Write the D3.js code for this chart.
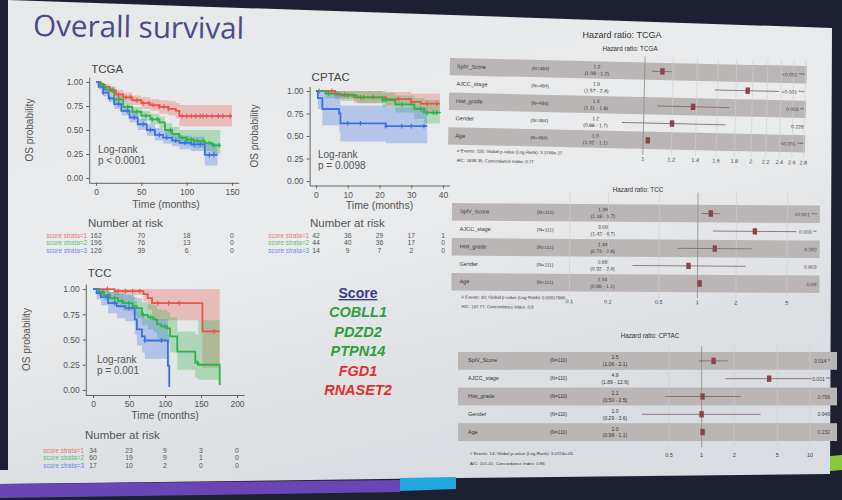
<!DOCTYPE html>
<html>
<head>
<meta charset="utf-8">
<script src="https://cdn.jsdelivr.net/npm/d3@7"></script>
<style>
body { margin: 0; background: #1c2030; }
svg text { font-family: "Liberation Sans", Arial, sans-serif; }
.narrow { font-family: "Liberation Sans Narrow", "Arial Narrow", "Liberation Sans", sans-serif; }
</style>
</head>
<body>
<svg id="slide" width="842" height="500"></svg>
<script>
const strataNames = ['score strata=1', 'score strata=2', 'score strata=3']
const strataColors = ['#e8554c', '#2fb24a', '#3d70e3']

// KM curves: [time, survival, lower CI, upper CI]
const tcgaStrata1 = [[0,1,1,1],[3,.98,.96,1],[8,.95,.92,.98],[15,.91,.87,.95],[22,.87,.83,.92],[30,.84,.79,.89],[40,.81,.76,.86],[50,.78,.72,.84],[60,.76,.70,.82],[70,.74,.67,.81],[80,.72,.65,.80],[88,.70,.62,.78],[92,.645,.54,.76],[150,.645,.54,.76]]
const tcgaStrata2 = [[0,1,1,1],[5,.97,.95,.99],[10,.92,.89,.95],[20,.82,.78,.86],[30,.74,.69,.79],[40,.69,.64,.74],[50,.65,.60,.70],[60,.61,.56,.67],[70,.58,.52,.64],[76,.50,.44,.57],[84,.46,.40,.53],[92,.42,.35,.50],[100,.40,.33,.50],[108,.385,.31,.50],[120,.365,.28,.50],[128,.34,.25,.50],[137,.34,.25,.50]]
const tcgaStrata3 = [[0,1,1,1],[3,.95,.92,.98],[8,.89,.85,.93],[14,.83,.79,.87],[20,.77,.72,.82],[28,.70,.65,.75],[37,.63,.58,.69],[46,.56,.50,.62],[56,.50,.44,.56],[65,.45,.39,.52],[74,.42,.36,.49],[84,.39,.33,.46],[92,.365,.30,.44],[105,.35,.28,.43],[120,.24,.13,.36],[134,.24,.13,.36]]
const tcgaCensor = [
  [10,18,25,33,38,45,52,58,63,70,75,80,95,100,105,110,115,118,122,128,135,140,148],
  [15,25,35,45,55,62,68,82,95,100,105,112,118,125,130,136],
  [8,15,25,35,42,52,60,70,78,88,98,108,115,125,130]
]
const tcgaTicks = [0, 50, 100, 150]
const tcgaRisk = [[162,70,18,0],[196,76,13,0],[126,39,6,0]]

const cptacStrata1 = [[0,1,1,1],[6,.96,.91,1],[12,.93,.87,1],[22,.91,.84,.99],[30,.88,.80,.97],[33,.86,.76,.97],[39,.86,.76,.97]]
const cptacStrata2 = [[0,1,1,1],[3,.97,.92,1],[8,.95,.89,1],[13,.93,.86,1],[21,.90,.82,.98],[25,.85,.76,.95],[31,.80,.69,.92],[34,.76,.64,.90],[39,.755,.63,.88]]
const cptacStrata3 = [[0,1,1,1],[0.6,.92,.80,1],[2,.80,.62,1],[7.3,.75,.55,.98],[7.7,.64,.44,.84],[22,.61,.42,.82],[35,.61,.42,.82]]
const cptacCensor = [
  [1,5,9,14,18,22,26,30,35,38],
  [4,10,15,21,22,27,33,35,37,38],
  [10,14,22,27,30,34]
]
const cptacTicks = [0, 10, 20, 30, 40]
const cptacRisk = [[42,36,29,17,1],[44,40,36,17,0],[14,9,7,2,0]]

const tccStrata1 = [[0,1,1,1],[30,.98,.94,1],[70,.95,.88,1],[76,.91,.80,1],[82,.86,.69,1],[152,.58,.22,1],[176,.58,.22,1]]
const tccStrata2 = [[0,1,1,1],[8,.97,.93,1],[15,.94,.89,.99],[24,.91,.85,.97],[35,.88,.81,.95],[42,.86,.78,.94],[55,.83,.74,.92],[61,.81,.71,.91],[68,.745,.64,.87],[76,.72,.60,.85],[84,.70,.57,.84],[89,.65,.51,.80],[95,.63,.48,.79],[103,.61,.46,.77],[107,.53,.37,.72],[117,.38,.20,.58],[142,.27,.12,.55],[146,.25,.10,.69],[176,.05,.10,.69]]
const tccStrata3 = [[0,1,1,1],[5,.96,.90,1],[11,.92,.84,1],[21,.86,.76,.97],[33,.83,.71,.95],[45,.81,.68,.94],[58,.70,.55,.88],[61,.60,.44,.80],[68,.53,.37,.74],[72,.49,.31,.70],[104,.24,.04,.55],[106,.03,.04,.55]]
const tccCensor = [
  [20,35,45,55,65,90,105,120,168],
  [8,14,22,30,40,50,70,80,100,145],
  [20,30,50,72,95]
]
const tccTicks = [0, 50, 100, 150, 200]
const tccRisk = [[34,23,9,3,0],[60,19,9,1,0],[17,10,2,0,0]]

// legend genes
const scoreGenes = ['COBLL1', 'PDZD2', 'PTPN14', 'FGD1', 'RNASET2']
const geneColors = ['#2e9e3e', '#2e9e3e', '#2e9e3e', '#e0302c', '#e0302c']

// forest plots
const forestVars = ['SplV_Score', 'AJCC_stage', 'Hist_grade', 'Gender', 'Age']

const tcgaN = '(N=484)'
const tcgaHR = [1.12, 1.94, 1.37, 1.20, 1.03]
const tcgaLo = [1.05, 1.57, 1.09, 0.87, 1.02]
const tcgaHi = [1.19, 2.37, 1.73, 1.69, 1.05]
const tcgaHRText = ['1.2', '1.9', '1.4', '1.2', '1.0']
const tcgaCIText = ['(1.08 - 1.2)', '(1.57 - 2.4)', '(1.11 - 1.8)', '(0.88 - 1.7)', '(1.02 - 1.1)']
const tcgaP = ['<0.001 ***', '<0.001 ***', '0.003 **', '0.228', '<0.001 ***']
const tcgaHRTicks = [1, 1.2, 1.4, 1.6, 1.8, 2, 2.2, 2.4, 2.6, 2.8]
const tcgaFoot = ['# Events: 150; Global p-value (Log-Rank): 3.3749e-27', 'AIC: 1638.35; Concordance Index: 0.77']

const tccN = '(N=111)'
const tccHR = [1.26, 2.79, 1.36, 0.85, 1.04]
const tccLo = [1.07, 1.31, 0.70, 0.31, 1.00]
const tccHi = [1.48, 5.9, 2.64, 2.37, 1.08]
const tccHRText = ['1.39', '3.09', '1.44', '0.88', '1.04']
const tccCIText = ['(1.18 - 1.7)', '(1.42 - 6.7)', '(0.74 - 2.8)', '(0.32 - 2.4)', '(0.98 - 1.1)']
const tccP = ['<0.001 ***', '0.003 **', '0.282', '0.803', '0.09']
const tccHRTicks = [0.1, 0.2, 0.5, 1, 2, 5]
const tccFoot = ['# Events: 30; Global p-value (Log-Rank): 0.00017965', 'AIC: 197.77; Concordance Index: 0.8']

const cptacN = '(N=110)'
const cptacHR = [1.29, 4.2, 1.02, 1.0, 1.02]
const cptacLo = [0.94, 1.67, 0.46, 0.28, 0.98]
const cptacHi = [1.74, 10.4, 2.3, 3.5, 1.06]
const cptacHRText = ['1.5', '4.9', '1.1', '1.0', '1.0']
const cptacCIText = ['(1.06 - 2.1)', '(1.89 - 12.6)', '(0.50 - 2.5)', '(0.29 - 3.6)', '(0.98 - 1.1)']
const cptacP = ['0.014 *', '0.001 **', '0.799', '0.946', '0.232']
const cptacHRTicks = [0.5, 1, 2, 5, 10]
const cptacFoot = ['# Events: 14; Global p-value (Log-Rank): 3.0724e-05', 'AIC: 101.41; Concordance Index: 0.86']

const svg = d3.select('#slide')

// slide background (photo of a projected slide)
const defs = svg.append('defs')
const grad = defs.append('linearGradient').attr('id', 'bg')
  .attr('x1', 0).attr('y1', 0).attr('x2', 0.4).attr('y2', 1)
grad.append('stop').attr('offset', '0%').attr('stop-color', '#e6e8ea')
grad.append('stop').attr('offset', '55%').attr('stop-color', '#e9ebec')
grad.append('stop').attr('offset', '100%').attr('stop-color', '#d9dce0')

svg.append('rect').attr('width', 842).attr('height', 500).attr('fill', '#1c2030')
svg.append('path').attr('d', 'M8,0 L832,28 L830,474 L456,478 L0,484 L0,470 L8,470 Z').attr('fill', 'url(#bg)')
svg.append('path').attr('d', 'M0,484 L400,480 L400,492 L0,498 Z').attr('fill', '#6a45b6')
svg.append('path').attr('d', 'M400,478 L456,477 L456,489 L400,491 Z').attr('fill', '#22a8e0')
svg.append('path').attr('d', 'M830,456 L842,455 L842,470 L830,471 Z').attr('fill', '#8cc63f')

svg.append('text')
  .attr('x', 33).attr('y', 36)
  .attr('transform', 'rotate(0.8,33,36)')
  .style('font-family', '"Open Sans", sans-serif')
  .style('font-size', '29.6px')
  .attr('fill', '#4a4a86')
  .text('Overall survival')

// Kaplan-Meier panel
function survAt(s, t) {
  const i = d3.bisector(d => d[0]).right(s, t) - 1
  return s[Math.max(0, i)][1]
}

function drawKM(cfg) {
  const x = d3.scaleLinear().domain(cfg.xDomain).range(cfg.xRange)
  const y = d3.scaleLinear().domain([-0.05, 1.05]).range(cfg.yRange)
  const g = svg.append('g')

  const area = d3.area().curve(d3.curveStepAfter)
    .x(d => x(d[0])).y0(d => y(d[2])).y1(d => y(d[3]))
  const line = d3.line().curve(d3.curveStepAfter)
    .x(d => x(d[0])).y(d => y(d[1]))

  cfg.strata.forEach((s, i) => {
    g.append('path').datum(s).attr('d', area)
      .attr('fill', strataColors[i]).attr('opacity', 0.3)
  })
  cfg.strata.forEach((s, i) => {
    g.append('path').datum(s).attr('d', line)
      .attr('fill', 'none').attr('stroke', strataColors[i]).attr('stroke-width', 1.8)
    g.selectAll(null).data(cfg.censor[i]).join('path')
      .attr('d', t => {
        const cx = x(t), cy = y(survAt(s, t))
        return `M${cx - 1.8},${cy}h3.6M${cx},${cy - 2.4}v4.8`
      })
      .attr('stroke', strataColors[i]).attr('stroke-width', 1.2)
  })

  // axes
  const xAxis = g.append('g').attr('transform', `translate(0,${cfg.yRange[0]})`)
    .call(d3.axisBottom(x).tickValues(cfg.xTicks).tickSize(3).tickSizeOuter(0))
  const yAxis = g.append('g').attr('transform', `translate(${cfg.xRange[0]},0)`)
    .call(d3.axisLeft(y).tickValues([0, .25, .5, .75, 1]).tickFormat(d3.format('.2f')).tickSize(3).tickSizeOuter(0))
  ;[xAxis, yAxis].forEach(a => {
    a.selectAll('path, line').attr('stroke', '#555').attr('stroke-width', 0.9)
    a.selectAll('text').attr('fill', '#555').style('font-size', '8.5px')
  })
  yAxis.selectAll('text').attr('dy', '0.33em')

  g.append('text').attr('x', cfg.xRange[0] + 2).attr('y', cfg.titleY)
    .style('font-size', '11.5px').attr('fill', '#444').text(cfg.title)
  g.append('text')
    .attr('transform', `translate(${cfg.yLabelX},${(cfg.yRange[0] + cfg.yRange[1]) / 2}) rotate(-90)`)
    .attr('text-anchor', 'middle').style('font-size', '10px').attr('fill', '#555')
    .text('OS probability')
  g.append('text').attr('x', (x(cfg.xTicks[0]) + x(cfg.xTicks[cfg.xTicks.length - 1])) / 2 + cfg.timeDx)
    .attr('y', cfg.timeY).attr('text-anchor', 'middle')
    .style('font-size', '10.5px').attr('fill', '#555').text('Time (months)')
  g.append('text').attr('x', cfg.lrX).attr('y', cfg.lrY)
    .style('font-size', '10px').attr('fill', '#555').text('Log-rank')
  g.append('text').attr('x', cfg.lrX).attr('y', cfg.lrY + 10.5)
    .style('font-size', '10px').attr('fill', '#555').text(cfg.pText)

  // number at risk table
  g.append('text').attr('x', cfg.riskX).attr('y', cfg.riskY)
    .style('font-size', '11.5px').attr('fill', '#555').text('Number at risk')
  cfg.risk.forEach((row, i) => {
    const ry = cfg.riskRow0 + i * 7.8
    g.append('text').attr('x', cfg.labelRight).attr('y', ry).attr('text-anchor', 'end')
      .style('font-size', '6.4px').attr('fill', strataColors[i]).attr('opacity', 0.75)
      .text(strataNames[i])
    g.selectAll(null).data(row).join('text')
      .attr('x', (d, j) => x(cfg.xTicks[j]))
      .attr('y', ry).attr('text-anchor', 'middle')
      .style('font-size', '6.8px').attr('fill', '#555')
      .text(d => d)
  })
}

drawKM({
  title: 'TCGA', titleY: 73,
  strata: [tcgaStrata1, tcgaStrata2, tcgaStrata3], censor: tcgaCensor,
  xDomain: [-7.5, 157.5], xRange: [89.2, 238.8], yRange: [182.8, 77.2],
  xTicks: tcgaTicks, yLabelX: 33, timeY: 208, timeDx: 2,
  lrX: 98, lrY: 153, pText: 'p < 0.0001',
  risk: tcgaRisk, riskX: 88, riskY: 227, riskRow0: 237.5, labelRight: 87
})
drawKM({
  title: 'CPTAC', titleY: 81,
  strata: [cptacStrata1, cptacStrata2, cptacStrata3], censor: cptacCensor,
  xDomain: [-2, 42], xRange: [309.6, 449.4], yRange: [185.5, 86.5],
  xTicks: cptacTicks, yLabelX: 258, timeY: 209, timeDx: 0,
  lrX: 318, lrY: 158, pText: 'p = 0.0098',
  risk: cptacRisk, riskX: 310, riskY: 227, riskRow0: 237.5, labelRight: 309
})
drawKM({
  title: 'TCC', titleY: 277,
  strata: [tccStrata1, tccStrata2, tccStrata3], censor: tccCensor,
  xDomain: [-10, 210], xRange: [85.8, 244.2], yRange: [395, 284],
  xTicks: tccTicks, yLabelX: 30, timeY: 419, timeDx: 0,
  lrX: 97, lrY: 363, pText: 'p = 0.001',
  risk: tccRisk, riskX: 85, riskY: 439, riskRow0: 452.5, labelRight: 84
})

// gene legend
svg.append('text').attr('x', 358).attr('y', 298).attr('text-anchor', 'middle')
  .attr('class', 'narrow').style('font-size', '14px').style('font-weight', 'bold')
  .style('text-decoration', 'underline').attr('fill', '#3a3d8c').text('Score')
svg.selectAll(null).data(scoreGenes).join('text')
  .attr('x', 358).attr('y', (d, i) => 317 + i * 19.5).attr('text-anchor', 'middle')
  .attr('class', 'narrow').style('font-size', '14.5px').style('font-weight', 'bold')
  .style('font-style', 'italic').attr('fill', (d, i) => geneColors[i]).text(d => d)

// forest plots
function drawForest(cfg) {
  const g = svg.append('g')
    .attr('transform', `translate(${cfg.x0},${cfg.y0}) rotate(${cfg.angle})`)
  const x = d3.scaleLog().domain(d3.extent(cfg.ticks)).range(cfg.range)
  const rh = cfg.rowH

  forestVars.forEach((v, i) => {
    if (i % 2 === 0) {
      g.append('rect').attr('x', 0).attr('y', i * rh).attr('width', cfg.width).attr('height', rh)
        .attr('fill', '#bab6b6')
    }
  })
  g.selectAll(null).data(cfg.ticks).join('line')
    .attr('x1', d => x(d)).attr('x2', d => x(d))
    .attr('y1', cfg.gridTop).attr('y2', rh * 5 + 6)
    .attr('stroke', d => d === 1 ? '#8a8a8a' : '#cfcfcf').attr('stroke-width', d => d === 1 ? 0.8 : 0.6)
  g.selectAll(null).data(cfg.ticks).join('text')
    .attr('class', 'narrow').attr('x', d => x(d)).attr('y', cfg.tickY)
    .attr('text-anchor', 'middle').style('font-size', '5.5px').attr('fill', '#444')
    .text(d => d)

  forestVars.forEach((v, i) => {
    const cy = i * rh + rh / 2
    g.append('line').attr('x1', x(cfg.lo[i])).attr('x2', x(cfg.hi[i]))
      .attr('y1', cy).attr('y2', cy).attr('stroke', '#7d5f5f').attr('stroke-width', 0.8)
    g.append('rect').attr('x', x(cfg.hr[i]) - 2.2).attr('y', cy - 3.2)
      .attr('width', 4.4).attr('height', 6.4).attr('fill', '#874646')
    g.append('text').attr('class', 'narrow').attr('x', cfg.varX).attr('y', cy + 1.5)
      .style('font-size', '5.5px').attr('fill', '#333').text(v)
    g.append('text').attr('class', 'narrow').attr('x', cfg.nX).attr('y', cy + 1.5)
      .style('font-size', '4.8px').attr('fill', '#333').text(cfg.n)
    g.append('text').attr('class', 'narrow').attr('x', cfg.hrX).attr('y', cy - 1.6)
      .attr('text-anchor', 'middle').style('font-size', '5px').attr('fill', '#333').text(cfg.hrText[i])
    g.append('text').attr('class', 'narrow').attr('x', cfg.hrX).attr('y', cy + 5.2)
      .attr('text-anchor', 'middle').style('font-size', '5px').attr('fill', '#333').text(cfg.ciText[i])
    g.append('text').attr('class', 'narrow').attr('x', cfg.pX).attr('y', cy + 2)
      .attr('text-anchor', 'end').style('font-size', '5px').attr('fill', '#444').text(cfg.p[i])
  })
  cfg.foot.forEach((t, i) => {
    g.append('text').attr('class', 'narrow').attr('x', cfg.varX + 2).attr('y', cfg.footY + i * 9.5)
      .style('font-size', '4.4px').attr('fill', '#333').text(t)
  })
  svg.append('text').attr('class', 'narrow').attr('x', cfg.titleX).attr('y', cfg.titleY)
    .attr('text-anchor', 'middle').style('font-size', '6.3px').attr('fill', '#333').text(cfg.title)
}

svg.append('text').attr('class', 'narrow').attr('x', 622).attr('y', 38)
  .attr('text-anchor', 'middle').style('font-size', '9px')
  .attr('fill', '#333').text('Hazard ratio: TCGA')

drawForest({
  x0: 450, y0: 58, angle: 1.3, width: 357, rowH: 17.3,
  ticks: tcgaHRTicks, range: [195, 355.6], gridTop: -6, tickY: 98.5,
  hr: tcgaHR, lo: tcgaLo, hi: tcgaHi, hrText: tcgaHRText, ciText: tcgaCIText, p: tcgaP, n: tcgaN,
  varX: 7, nX: 82, hrX: 147, pX: 355, footY: 94, foot: tcgaFoot,
  title: 'Hazard ratio: TCGA', titleX: 630, titleY: 51
})
drawForest({
  x0: 452, y0: 203, angle: 0.4, width: 368, rowH: 17.5,
  ticks: tccHRTicks, range: [118, 335.5], gridTop: -12, tickY: 99.5,
  hr: tccHR, lo: tccLo, hi: tccHi, hrText: tccHRText, ciText: tccCIText, p: tccP, n: tccN,
  varX: 8, nX: 85, hrX: 151, pX: 365, footY: 95.5, foot: tccFoot,
  title: 'Hazard ratio: TCC', titleX: 638, titleY: 192
})
drawForest({
  x0: 458, y0: 352, angle: 0, width: 379, rowH: 17.8,
  ticks: cptacHRTicks, range: [211, 352], gridTop: -6, tickY: 104.5,
  hr: cptacHR, lo: cptacLo, hi: cptacHi, hrText: cptacHRText, ciText: cptacCIText, p: cptacP, n: cptacN,
  varX: 10, nX: 92, hrX: 157, pX: 372, footY: 103, foot: cptacFoot,
  title: 'Hazard ratio: CPTAC', titleX: 650, titleY: 338
})
</script>
</body>
</html>
